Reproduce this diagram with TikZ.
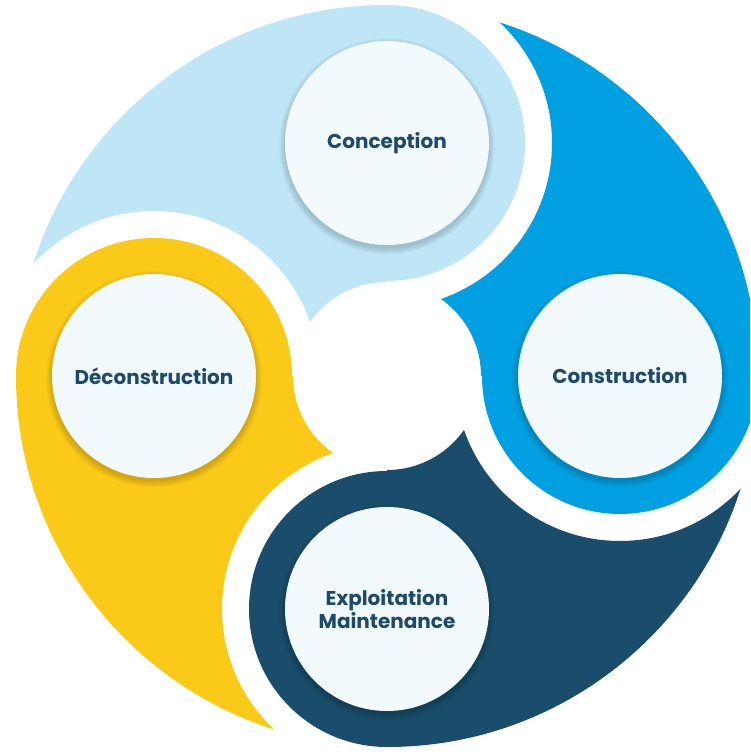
\documentclass[tikz,border=0pt]{standalone}
\usepackage{fontspec}
\setmainfont{Poppins}
\usepackage{tikz}

\definecolor{paleblue}{HTML}{BEE6F7}
\definecolor{midblue}{HTML}{00A0E2}
\definecolor{navy}{HTML}{1A4D6B}
\definecolor{sun}{HTML}{FBC918}
\definecolor{bubble}{HTML}{F3FAFE}
\definecolor{ink}{HTML}{1B4A6B}

\tikzset{
    phase/.style={circle, fill=bubble, minimum size=153pt, inner sep=0pt, align=center,
        text=ink, font=\bfseries\fontsize{15}{15.8}\selectfont},
    haze/.style={fill=black, opacity=0.022},
}

\begin{document}
\begin{tikzpicture}[x=0.75pt, y=0.75pt]
        \clip (-387,-376) rectangle (363,376);

        % Centres
        \coordinate (top) at (0,233);
        \coordinate (right) at (233,0);
        \coordinate (bottom) at (0,-233);
        \coordinate (left) at (-233,0);

        % Tails: quarter of the disc, minus the hole and the gap round the next head
        \begin{scope}[even odd rule]
            \clip (0,0) -- (90:420) arc[start angle=90, end angle=180, radius=420] -- cycle;
            \clip (-500,-500) rectangle (500,500) (left) circle[radius=165];
            \clip (-500,-500) rectangle (500,500) (0,0) circle[radius=94];
            \fill[paleblue] (0,0) circle[radius=371];
        \end{scope}
        \begin{scope}[even odd rule]
            \clip (0,0) -- (180:420) arc[start angle=180, end angle=270, radius=420] -- cycle;
            \clip (-500,-500) rectangle (500,500) (bottom) circle[radius=165];
            \clip (-500,-500) rectangle (500,500) (0,0) circle[radius=94];
            \fill[sun] (0,0) circle[radius=371];
        \end{scope}
        \begin{scope}[even odd rule]
            \clip (0,0) -- (270:420) arc[start angle=270, end angle=360, radius=420] -- cycle;
            \clip (-500,-500) rectangle (500,500) (right) circle[radius=165];
            \clip (-500,-500) rectangle (500,500) (0,0) circle[radius=94];
            \fill[navy] (0,0) circle[radius=371];
        \end{scope}
        \begin{scope}[even odd rule]
            \clip (0,0) -- (0:420) arc[start angle=0, end angle=90, radius=420] -- cycle;
            \clip (-500,-500) rectangle (500,500) (top) circle[radius=165];
            \clip (-500,-500) rectangle (500,500) (0,0) circle[radius=94];
            \fill[midblue] (0,0) circle[radius=371];
        \end{scope}

        % Heads
        \fill[paleblue] (top) circle[radius=138];
        \fill[sun] (left) circle[radius=138];
        \fill[navy] (bottom) circle[radius=138];
        \fill[midblue] (right) circle[radius=138];

        % Soft shadows under the bubbles
        \foreach \c in {top, right, bottom, left}
            \foreach \s in {1,...,7}
                \fill[haze] ([yshift=-2.5pt]\c) circle[radius=101+8-\s];

        % Nodes
        \node[phase] (conception) at (top) {Conception};
        \node[phase] (construction) at (right) {Construction};
        \node[phase] (exploitation) at (bottom) {Exploitation\\Maintenance};
        \node[phase] (deconstruction) at (left) {Déconstruction};

    \end{tikzpicture}
\end{document}
